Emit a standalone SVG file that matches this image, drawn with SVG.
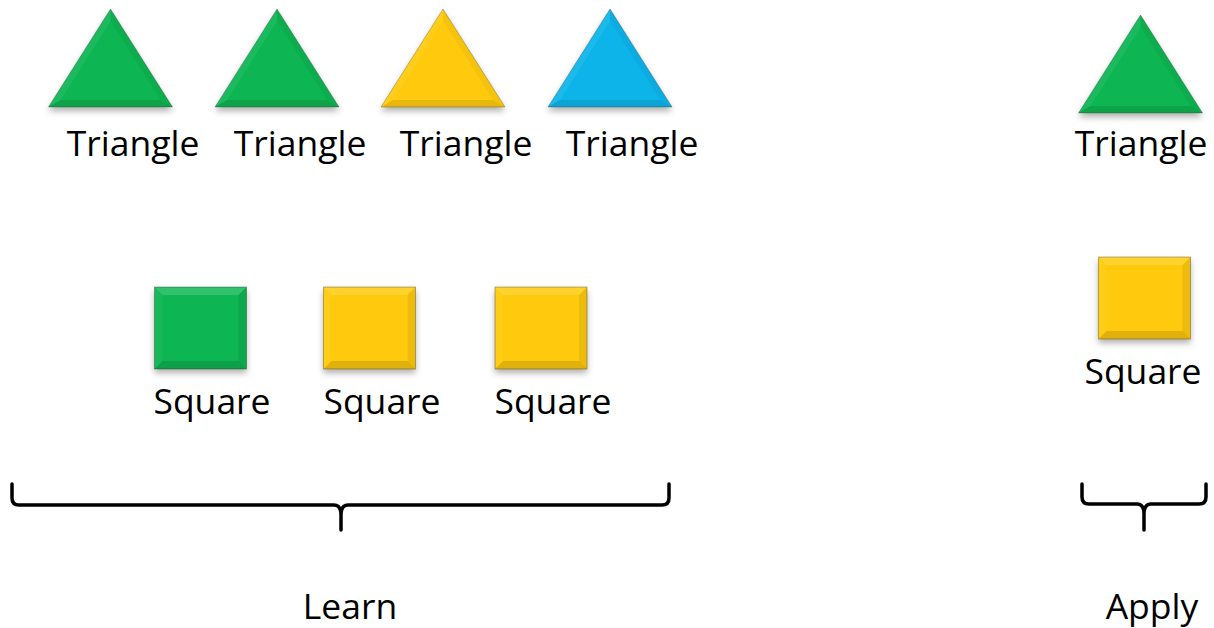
<svg xmlns="http://www.w3.org/2000/svg" xmlns:xlink="http://www.w3.org/1999/xlink" width="1214" height="628" viewBox="0 0 1214 628">
<style>
text{font-family:"Open Sans","Liberation Sans",sans-serif;font-size:35.5px;fill:#000;text-anchor:middle}
.brace{fill:none;stroke:#000;stroke-width:3.5;stroke-linecap:round;stroke-linejoin:round}
.green{fill:#0DB552}
.yellow{fill:#FFCA08}
.blue{fill:#0BB4EA}
</style>
<defs>
<filter id="sh" x="-30%" y="-30%" width="160%" height="170%">
<feDropShadow dx="0" dy="4" stdDeviation="3" flood-color="#000" flood-opacity="0.3"/>
</filter>
<g id="tri">
<path d="M0,-49 L62,49 L-62,49 Z"/>
<path d="M0,-49 L-62,49 L-50,42 L0,-37 Z" fill="#fff" opacity="0.08"/>
<path d="M0,-49 L0,-37 L50,42 L62,49 Z" fill="#000" opacity="0.04"/>
<path d="M-62,49 L62,49 L50,42 L-50,42 Z" fill="#000" opacity="0.09"/>
<path d="M0,-49 L62,49 L-62,49 Z" fill="none" stroke="#000" stroke-opacity="0.22" stroke-width="1"/>
</g>
<g id="sq">
<rect x="-46" y="-41" width="92" height="82"/>
<path d="M-46,-41 L46,-41 L38,-33 L-38,-33 Z" fill="#fff" opacity="0.16"/>
<path d="M-46,-41 L-38,-33 L-38,33 L-46,41 Z" fill="#fff" opacity="0.05"/>
<path d="M46,-41 L46,41 L38,33 L38,-33 Z" fill="#000" opacity="0.07"/>
<path d="M-46,41 L46,41 L38,33 L-38,33 Z" fill="#000" opacity="0.12"/>
<rect x="-46" y="-41" width="92" height="82" fill="none" stroke="#000" stroke-opacity="0.28" stroke-width="1"/>
</g>
</defs>
<g id="triangle1"><use xlink:href="#tri" class="green" filter="url(#sh)" transform="translate(110.5,58)"/><text x="133" y="156">Triangle</text></g>
<g id="triangle2"><use xlink:href="#tri" class="green" filter="url(#sh)" transform="translate(277,58)"/><text x="300" y="156">Triangle</text></g>
<g id="triangle3"><use xlink:href="#tri" class="yellow" filter="url(#sh)" transform="translate(443,58)"/><text x="466" y="156">Triangle</text></g>
<g id="triangle4"><use xlink:href="#tri" class="blue" filter="url(#sh)" transform="translate(610,58)"/><text x="632" y="156">Triangle</text></g>
<g id="square1"><use xlink:href="#sq" class="green" filter="url(#sh)" transform="translate(200.5,328)"/><text x="212" y="414">Square</text></g>
<g id="square2"><use xlink:href="#sq" class="yellow" filter="url(#sh)" transform="translate(369.5,328)"/><text x="382" y="414">Square</text></g>
<g id="square3"><use xlink:href="#sq" class="yellow" filter="url(#sh)" transform="translate(541,328)"/><text x="553" y="414">Square</text></g>
<g id="apply-triangle"><use xlink:href="#tri" class="green" filter="url(#sh)" transform="translate(1140.5,64)"/><text x="1141" y="156">Triangle</text></g>
<g id="apply-square"><use xlink:href="#sq" class="yellow" filter="url(#sh)" transform="translate(1144.5,298)"/><text x="1143" y="384">Square</text></g>
<g id="connectors">
<path class="brace" d="M12,484 L12,498 Q12,505 19,505 L334,505 Q341,505 341,515 L341,530 M341,515 Q341,505 348,505 L662,505 Q669,505 669,498 L669,484"/>
<path class="brace" d="M1082,484 L1082,497 Q1082,504 1089,504 L1137,504 Q1144,504 1144,514 L1144,530 M1144,514 Q1144,504 1151,504 L1199,504 Q1206,504 1206,497 L1206,484"/>
</g>
<g id="learn"><text x="350" y="619">Learn</text></g>
<g id="apply"><text x="1152" y="619">Apply</text></g>
</svg>
